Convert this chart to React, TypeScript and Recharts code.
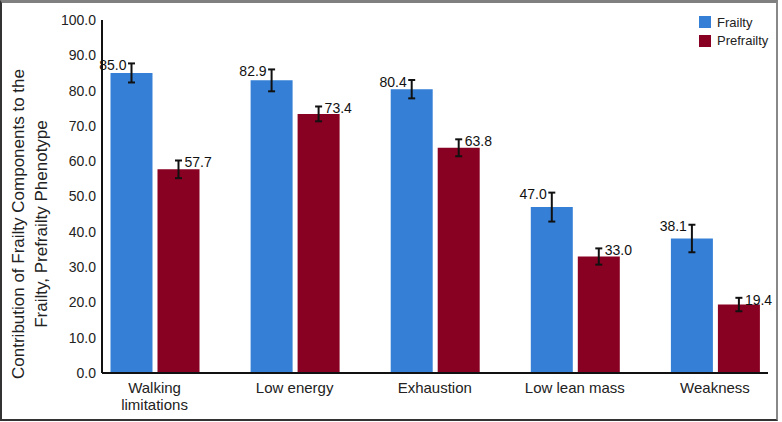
import { Bar, BarChart, ErrorBar, LabelList, XAxis, YAxis } from 'recharts';

const categories = ['Walking\nlimitations', 'Low energy', 'Exhaustion', 'Low lean mass', 'Weakness'];
const frailty = [85.0, 82.9, 80.4, 47.0, 38.1];
const frailtyErr = [2.7, 3.1, 2.6, 4.1, 3.9];
const prefrailty = [57.7, 73.4, 63.8, 33.0, 19.4];
const prefrailtyErr = [2.5, 2.1, 2.4, 2.3, 1.9];
const yTicks = [0, 10, 20, 30, 40, 50, 60, 70, 80, 90, 100];

const BLUE = '#3580d6';
const RED = '#880022';
const FONT = '"Liberation Sans", Arial, sans-serif';

const data = categories.map((name, i) => ({
  name,
  frailty: frailty[i],
  frailtyErr: frailtyErr[i],
  prefrailty: prefrailty[i],
  prefrailtyErr: prefrailtyErr[i],
}));

function makeLabel(errs: number[], side: 'left' | 'right') {
  return (props: any) => {
    const { x, y, width, height, value, index } = props;
    const perUnit = height / value;
    const top = y - errs[index] * perUnit;
    const cx = x + width / 2;
    return (
      <text
        x={side === 'left' ? cx - 5 : cx + 6}
        y={top + 3}
        textAnchor={side === 'left' ? 'end' : 'start'}
        dominantBaseline="middle"
        fontSize={14}
        fill="#111"
        fontFamily={FONT}
      >
        {Number(value).toFixed(1)}
      </text>
    );
  };
}

function XTick({ x, y, payload }: any) {
  const lines = String(payload.value).split('\n');
  return (
    <g>
      {lines.map((l, i) => (
        <text
          key={i}
          x={x}
          y={y + 12 + i * 17}
          textAnchor="middle"
          fontSize={15}
          fill="#222"
          fontFamily={FONT}
        >
          {l}
        </text>
      ))}
    </g>
  );
}

function YTitle() {
  const yc = 224;
  return (
    <g fontFamily={FONT} fontSize={17} fill="#222">
      <text x={20} y={yc} textAnchor="middle" dominantBaseline="middle" transform={`rotate(-90 20 ${yc})`}>
        Contribution of Frailty Components to the
      </text>
      <text x={43} y={yc} textAnchor="middle" dominantBaseline="middle" transform={`rotate(-90 43 ${yc})`}>
        Frailty, Prefrailty Phenotype
      </text>
    </g>
  );
}

function LegendBox() {
  const items = [
    { label: 'Frailty', color: BLUE },
    { label: 'Prefrailty', color: RED },
  ];
  return (
    <div style={{ position: 'absolute', left: 699, top: 13, fontFamily: FONT, fontSize: 13, color: '#222' }}>
      {items.map((it) => (
        <div key={it.label} style={{ display: 'flex', alignItems: 'center', height: 18.5 }}>
          <span style={{ width: 12, height: 12, background: it.color, display: 'inline-block', marginRight: 6 }} />
          {it.label}
        </div>
      ))}
    </div>
  );
}

export default function App() {
  return (
    <div style={{ position: 'absolute', left: 0, top: 0, width: 782, height: 422, background: '#fff' }}>
      <BarChart
        width={782}
        height={422}
        data={data}
        margin={{ top: 20, right: 14, left: 0, bottom: 0 }}
        barSize={42}
        barGap={5}
      >
        <XAxis
          dataKey="name"
          height={49}
          tickLine={false}
          axisLine={{ stroke: '#111', strokeWidth: 2 }}
          padding={{ left: -17.5, right: -17 }}
          tick={<XTick />}
          interval={0}
        />
        <YAxis
          width={102}
          domain={[0, 100]}
          ticks={yTicks}
          tickLine={false}
          tickSize={0}
          tickMargin={6}
          axisLine={{ stroke: '#111', strokeWidth: 2 }}
          tickFormatter={(v: number) => v.toFixed(1)}
          tick={{ fontSize: 14, fill: '#222', fontFamily: FONT }}
        />
        <Bar dataKey="frailty" fill={BLUE} isAnimationActive={false}>
          <ErrorBar dataKey="frailtyErr" width={3.5} stroke="#111" strokeWidth={2} direction="y" />
          <LabelList dataKey="frailty" content={makeLabel(frailtyErr, 'left')} />
        </Bar>
        <Bar dataKey="prefrailty" fill={RED} isAnimationActive={false}>
          <ErrorBar dataKey="prefrailtyErr" width={3.5} stroke="#111" strokeWidth={2} direction="y" />
          <LabelList dataKey="prefrailty" content={makeLabel(prefrailtyErr, 'right')} />
        </Bar>
        <YTitle />
      </BarChart>
      <LegendBox />
      <div
        style={{
          position: 'absolute',
          left: 0,
          top: 0,
          width: 778,
          height: 421,
          boxSizing: 'border-box',
          borderTop: '3px solid #808080',
          borderLeft: '2px solid #333',
          borderBottom: '2px solid #333',
          borderRight: '2px solid #888',
          pointerEvents: 'none',
        }}
      />
    </div>
  );
}
